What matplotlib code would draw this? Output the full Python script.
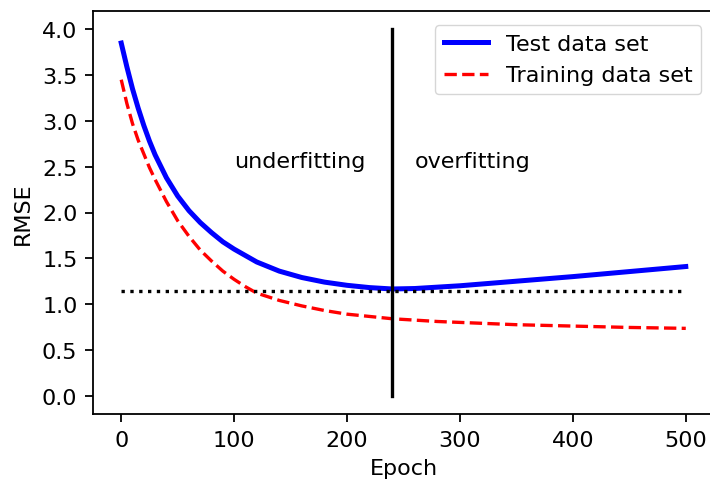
import matplotlib
matplotlib.use("Agg")
import matplotlib.pyplot as plt

# Data
epochs_test = [0, 5, 10, 15, 20, 25, 30, 40, 50, 60, 70, 80, 90, 100, 120, 140,
               160, 180, 200, 220, 240, 260, 280, 300, 350, 400, 450, 500]
rmse_test = [3.85, 3.59, 3.35, 3.14, 2.95, 2.78, 2.63, 2.38, 2.18, 2.02, 1.89,
             1.78, 1.68, 1.60, 1.46, 1.36, 1.29, 1.24, 1.205, 1.18, 1.165,
             1.17, 1.185, 1.20, 1.25, 1.30, 1.355, 1.41]

epochs_train = [0, 5, 10, 15, 20, 25, 30, 40, 50, 60, 70, 80, 90, 100, 110,
                120, 140, 160, 180, 200, 220, 240, 280, 300, 350, 400, 450, 500]
rmse_train = [3.45, 3.19, 2.97, 2.79, 2.64, 2.49, 2.36, 2.12, 1.91, 1.74, 1.59,
              1.47, 1.36, 1.27, 1.19, 1.12, 1.04, 0.98, 0.93, 0.89, 0.865,
              0.84, 0.81, 0.80, 0.775, 0.76, 0.745, 0.735]

baseline_x = [0, 500]
baseline_y = [1.14, 1.14]
stop_epoch = 240
stop_range = [0, 4.0]

labels = ["Test data set", "Training data set"]
xticks = [0, 100, 200, 300, 400, 500]
yticks = [0.0, 0.5, 1.0, 1.5, 2.0, 2.5, 3.0, 3.5, 4.0]

plt.rcParams['font.size'] = 16
plt.rcParams['xtick.major.size'] = 5.6
plt.rcParams['ytick.major.size'] = 5.6
plt.rcParams['xtick.major.pad'] = 5.6
plt.rcParams['ytick.major.pad'] = 5.6
plt.rcParams['axes.labelpad'] = 6.4
plt.rcParams['axes.linewidth'] = 1.3
plt.rcParams['xtick.major.width'] = 1.3
plt.rcParams['ytick.major.width'] = 1.3

fig = plt.figure(figsize=(7.10, 4.81), dpi=100)
ax = fig.add_axes([93 / 710, (481 - 415) / 481, (714 - 93) / 710, (415 - 12) / 481])

ax.plot(epochs_test, rmse_test, color='blue', lw=3.6, label=labels[0])
ax.plot(epochs_train, rmse_train, color='red', lw=2.4, ls='--', label=labels[1])
ax.plot(baseline_x, baseline_y, color='black', lw=2.4, ls=':')
ax.plot([stop_epoch, stop_epoch], stop_range, color='black', lw=2.4)

ax.text(100, 2.5, "underfitting", va='baseline', ha='left')
ax.text(260, 2.5, "overfitting", va='baseline', ha='left')

ax.set_xlim(-25, 525)
ax.set_ylim(-0.2, 4.2)
ax.set_xticks(xticks)
ax.set_yticks(yticks)
ax.set_xlabel("Epoch")
ax.set_ylabel("RMSE")
ax.legend(loc='upper right', bbox_to_anchor=(0.9975, 0.992))

fig.savefig("out.png", dpi=100)
